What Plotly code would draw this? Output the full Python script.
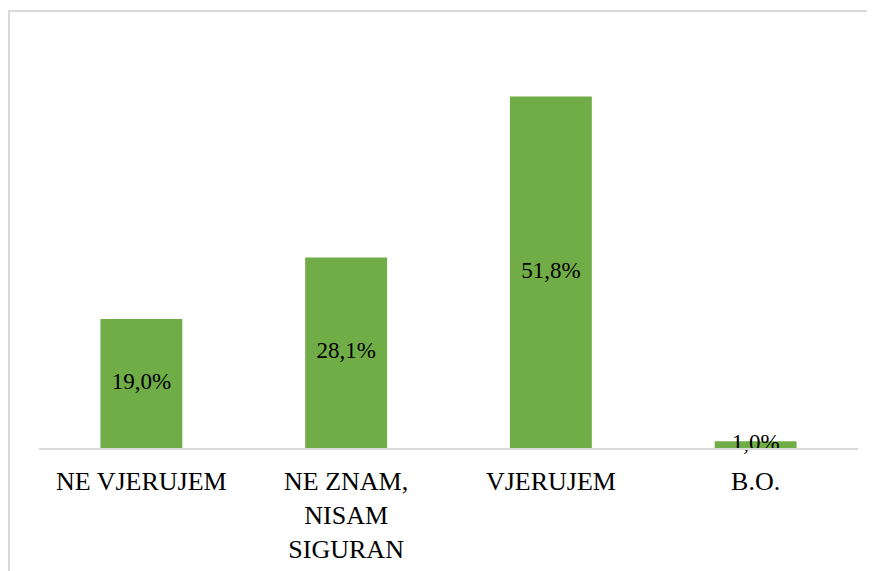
import plotly.graph_objects as go

# Podaci
categories = ["NE VJERUJEM", "NE ZNAM,<br>NISAM<br>SIGURAN", "VJERUJEM", "B.O."]
values = [19.0, 28.1, 51.8, 1.0]
labels = ["19,0%", "28,1%", "51,8%", "1,0%"]

GREEN = "#70AD47"
FONT = "Liberation Serif"

fig = go.Figure()
fig.add_trace(go.Bar(
    x=categories,
    y=values,
    marker=dict(color=GREEN, line=dict(width=0)),
    hoverinfo="skip",
))
# oznake u sredini stupca
fig.add_trace(go.Scatter(
    x=categories,
    y=[v / 2 for v in values],
    mode="text",
    text=labels,
    textposition="middle center",
    textfont=dict(family=FONT, size=23, color="#000000"),
    cliponaxis=False,
    hoverinfo="skip",
))

# okvir grafikona
pw, ph = 819, 407
fig.add_shape(
    type="rect", xref="paper", yref="paper",
    x0=-30 / pw, x1=(900 - 39) / pw,
    y0=(448 - 600) / ph, y1=(448 - 11) / ph,
    line=dict(color="#D9D9D9", width=2),
    fillcolor="rgba(0,0,0,0)",
)

fig.update_layout(
    width=875,
    height=571,
    margin=dict(l=31, r=25, t=33, b=131),
    paper_bgcolor="white",
    plot_bgcolor="white",
    showlegend=False,
    bargap=0.6,
    font=dict(family=FONT, color="#000000"),
    xaxis=dict(
        showline=True, linecolor="#D9D9D9", linewidth=2,
        showgrid=False, ticks="", tickfont=dict(family=FONT, size=26),
        ticklabelstandoff=9,
        fixedrange=True,
    ),
    yaxis=dict(
        range=[0, 60], visible=False, showgrid=False, zeroline=False,
        fixedrange=True,
    ),
)

fig.write_html("out.html")
